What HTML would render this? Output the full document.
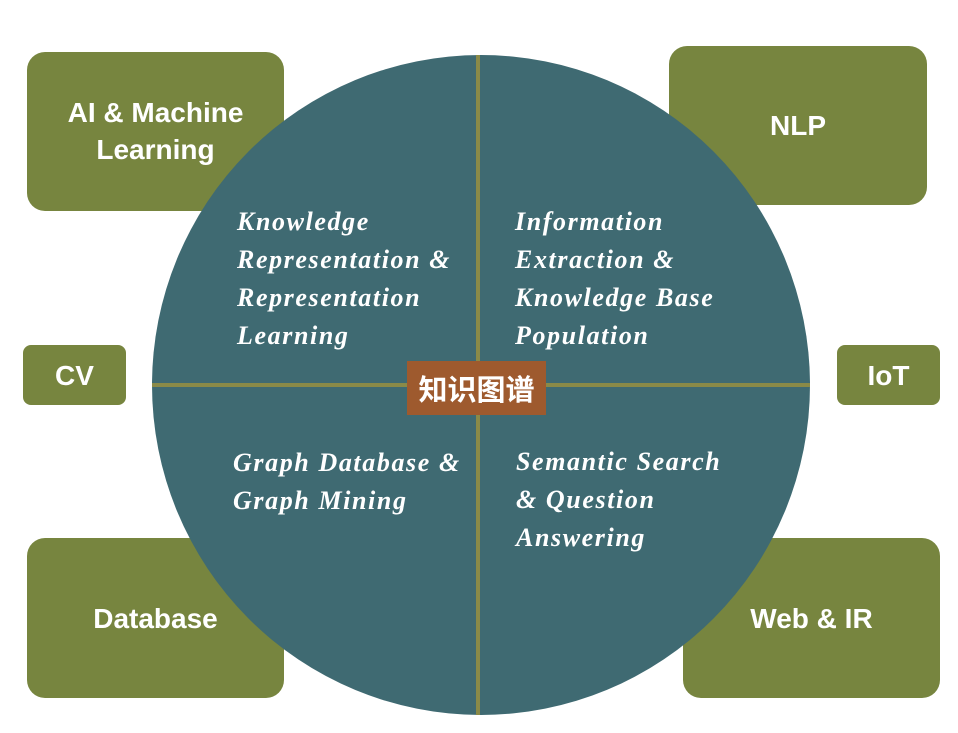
<!DOCTYPE html>
<html><head><meta charset="utf-8"><style>
body{margin:0;width:958px;height:733px;background:#fff;position:relative;overflow:hidden;font-family:"Liberation Sans",sans-serif}
.b{position:absolute;background:#77853f;border-radius:18px;color:#fff;font-size:28px;font-weight:bold;display:flex;align-items:center;justify-content:center;text-align:center;line-height:37px}
.s{border-radius:8px}
.c{position:absolute;left:152px;top:55px;width:658px;height:660px;border-radius:50%;background:#3f6a72}
.h{position:absolute;left:152px;top:383px;width:658px;height:4px;background:#8a8a48}
.v{position:absolute;left:476px;top:55px;width:4px;height:660px;background:#8a8a48}
.t{position:absolute;color:#fff;font-family:"Liberation Serif",serif;font-style:italic;font-weight:bold;font-size:26px;letter-spacing:1.6px;line-height:38px;white-space:nowrap}
.k{position:absolute;left:407px;top:361px;width:139px;height:54px;background:#9e5a2e;color:#fff;font-family:"Liberation Sans","Noto Sans CJK SC",sans-serif;font-weight:bold;font-size:29px;display:flex;align-items:center;justify-content:center}
</style></head><body>
<div class="b" style="left:27px;top:52px;width:257px;height:159px;padding-bottom:2px;box-sizing:border-box">AI &amp; Machine<br>Learning</div>
<div class="b" style="left:669px;top:46px;width:258px;height:159px">NLP</div>
<div class="b s" style="left:23px;top:345px;width:103px;height:60px">CV</div>
<div class="b s" style="left:837px;top:345px;width:103px;height:60px">IoT</div>
<div class="b" style="left:27px;top:538px;width:257px;height:160px">Database</div>
<div class="b" style="left:683px;top:538px;width:257px;height:160px">Web &amp; IR</div>
<div class="c"></div><div class="h"></div><div class="v"></div>
<div class="t" style="left:237px;top:203px">Knowledge<br>Representation &amp;<br>Representation<br>Learning</div>
<div class="t" style="left:515px;top:203px">Information<br>Extraction &amp;<br>Knowledge Base<br>Population</div>
<div class="t" style="left:233px;top:444px">Graph Database &amp;<br>Graph Mining</div>
<div class="t" style="left:516px;top:443px">Semantic Search<br>&amp; Question<br>Answering</div>
<div class="k">知识图谱</div>
</body></html>
